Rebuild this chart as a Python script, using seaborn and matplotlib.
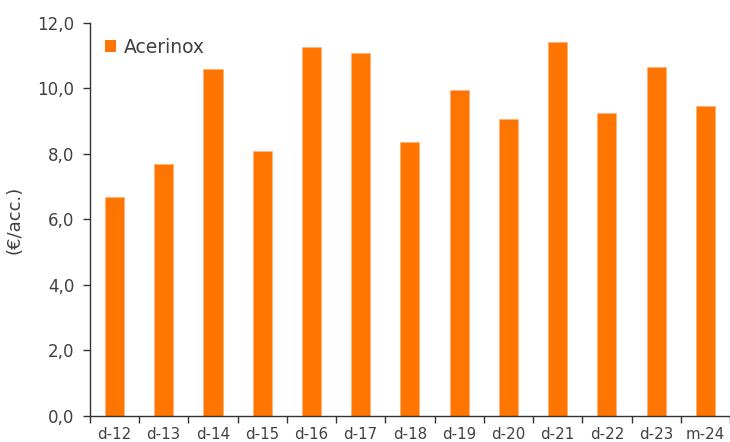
import matplotlib
matplotlib.use("Agg")
import matplotlib.pyplot as plt
import seaborn as sns
import pandas as pd
import numpy as np
from matplotlib.ticker import FuncFormatter, FixedLocator

categories = ["d-12", "d-13", "d-14", "d-15", "d-16", "d-17", "d-18",
              "d-19", "d-20", "d-21", "d-22", "d-23", "m-24"]
values = [6.69, 7.69, 10.6, 8.09, 11.28, 11.07, 8.38, 9.94, 9.06, 11.41, 9.26, 10.66, 9.47]
series_name = "Acerinox"
y_label = "(€/acc.)"

sns.set_style("white")
plt.rcParams['font.family'] = ['DejaVu Sans']

df = pd.DataFrame({"cat": categories, "val": values, "series": series_name})

fig = plt.figure(figsize=(7.3, 4.42), dpi=100)
ax = fig.add_axes([0.123, 0.059, 0.877, 0.889])
sns.barplot(data=df, x="cat", y="val", hue="series", palette=["#ff7500"],
            width=0.39, ax=ax, saturation=1, edgecolor="#ffb27a", linewidth=0.6)

gray = "#404040"
ax.set_ylim(0, 12)
ax.set_xlim(-0.5, len(categories) - 0.5)
ax.set_yticks(np.arange(0, 12.1, 2))
ax.yaxis.set_major_formatter(FuncFormatter(lambda v, p: f"{v:.1f}".replace(".", ",")))
ax.set_xlabel("")
ax.set_ylabel(y_label, fontsize=13, color=gray, labelpad=10)

ax.xaxis.set_minor_locator(FixedLocator(np.arange(-0.5, len(categories), 1)))
ax.tick_params(axis="x", which="major", length=0, labelsize=10.8, colors=gray, pad=8)
ax.tick_params(axis="x", which="minor", length=5, width=1, color="#333333", direction="out", bottom=True)
ax.tick_params(axis="y", which="major", length=5, width=1, color="#333333", direction="out",
               labelsize=12, labelcolor=gray, pad=6, left=True)

for s in ["top", "right"]:
    ax.spines[s].set_visible(False)
for s in ["left", "bottom"]:
    ax.spines[s].set_color("#333333")
    ax.spines[s].set_linewidth(1)

leg = ax.legend(loc="upper left", bbox_to_anchor=(0.0, 1.0), frameon=False,
                fontsize=13.5, handlelength=0.62, handleheight=0.62, handletextpad=0.4,
                borderaxespad=0.5, borderpad=0.3)
for t in leg.get_texts():
    t.set_color(gray)
for h in leg.legend_handles:
    h.set_edgecolor("none")

fig.savefig("out.png", dpi=100)
